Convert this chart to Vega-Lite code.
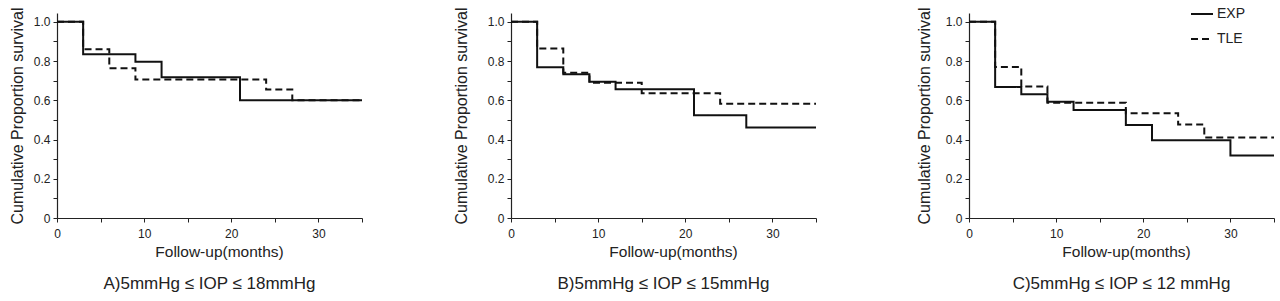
{
  "$schema": "https://vega.github.io/schema/vega-lite/v6.json",
  "background": "white",
  "padding": {"left": 9, "top": 2, "right": 0, "bottom": 0},
  "config": {
    "font": "Liberation Sans",
    "view": {"stroke": null},
    "axis": {
      "domainColor": "#222", "tickColor": "#222", "labelColor": "#222", "titleColor": "#222",
      "labelFontSize": 12, "titleFontSize": 15.5, "titleFontWeight": "normal",
      "grid": false, "tickSize": 4, "domainWidth": 1.2, "tickWidth": 1, "labelFlush": false, "labelOverlap": false
    },
    "axisY": {"titleFontSize": 16},
    "title": {"fontSize": 17, "fontWeight": "normal", "color": "#222"}
  },
  "data": {"values": [
    {"panel": "A", "group": "EXP", "month": 0, "survival": 1.0},
    {"panel": "A", "group": "EXP", "month": 3, "survival": 0.835},
    {"panel": "A", "group": "EXP", "month": 9, "survival": 0.797},
    {"panel": "A", "group": "EXP", "month": 12, "survival": 0.718},
    {"panel": "A", "group": "EXP", "month": 21, "survival": 0.60},
    {"panel": "A", "group": "EXP", "month": 35, "survival": 0.60},
    {"panel": "A", "group": "TLE", "month": 0, "survival": 1.0},
    {"panel": "A", "group": "TLE", "month": 3, "survival": 0.86},
    {"panel": "A", "group": "TLE", "month": 6, "survival": 0.763},
    {"panel": "A", "group": "TLE", "month": 9, "survival": 0.706},
    {"panel": "A", "group": "TLE", "month": 24, "survival": 0.655},
    {"panel": "A", "group": "TLE", "month": 27, "survival": 0.60},
    {"panel": "A", "group": "TLE", "month": 35, "survival": 0.60},
    {"panel": "B", "group": "EXP", "month": 0, "survival": 1.0},
    {"panel": "B", "group": "EXP", "month": 3, "survival": 0.769},
    {"panel": "B", "group": "EXP", "month": 6, "survival": 0.733},
    {"panel": "B", "group": "EXP", "month": 9, "survival": 0.694},
    {"panel": "B", "group": "EXP", "month": 12, "survival": 0.656},
    {"panel": "B", "group": "EXP", "month": 21, "survival": 0.524},
    {"panel": "B", "group": "EXP", "month": 27, "survival": 0.461},
    {"panel": "B", "group": "EXP", "month": 35, "survival": 0.461},
    {"panel": "B", "group": "TLE", "month": 0, "survival": 1.0},
    {"panel": "B", "group": "TLE", "month": 3, "survival": 0.864},
    {"panel": "B", "group": "TLE", "month": 6, "survival": 0.741},
    {"panel": "B", "group": "TLE", "month": 9, "survival": 0.689},
    {"panel": "B", "group": "TLE", "month": 15, "survival": 0.636},
    {"panel": "B", "group": "TLE", "month": 24, "survival": 0.583},
    {"panel": "B", "group": "TLE", "month": 35, "survival": 0.583},
    {"panel": "C", "group": "EXP", "month": 0, "survival": 1.0},
    {"panel": "C", "group": "EXP", "month": 3, "survival": 0.668},
    {"panel": "C", "group": "EXP", "month": 6, "survival": 0.631},
    {"panel": "C", "group": "EXP", "month": 9, "survival": 0.592},
    {"panel": "C", "group": "EXP", "month": 12, "survival": 0.551},
    {"panel": "C", "group": "EXP", "month": 18, "survival": 0.474},
    {"panel": "C", "group": "EXP", "month": 21, "survival": 0.396},
    {"panel": "C", "group": "EXP", "month": 30, "survival": 0.318},
    {"panel": "C", "group": "EXP", "month": 35, "survival": 0.318},
    {"panel": "C", "group": "TLE", "month": 0, "survival": 1.0},
    {"panel": "C", "group": "TLE", "month": 3, "survival": 0.77},
    {"panel": "C", "group": "TLE", "month": 6, "survival": 0.67},
    {"panel": "C", "group": "TLE", "month": 9, "survival": 0.588},
    {"panel": "C", "group": "TLE", "month": 18, "survival": 0.534},
    {"panel": "C", "group": "TLE", "month": 24, "survival": 0.476},
    {"panel": "C", "group": "TLE", "month": 27, "survival": 0.41},
    {"panel": "C", "group": "TLE", "month": 35, "survival": 0.41}
  ]},
  "spacing": 96,
  "resolve": {"legend": {"strokeDash": "independent"}},
  "hconcat": [
    {
      "spacing": 87,
      "resolve": {"legend": {"strokeDash": "independent"}},
      "hconcat": [
        {
          "width": 305, "height": 205,
          "title": {"text": "A)5mmHg ≤ IOP ≤ 18mmHg", "orient": "bottom", "offset": 16, "anchor": "middle", "frame": "group"},
          "transform": [{"filter": "datum.panel == 'A'"}],
          "mark": {"type": "line", "interpolate": "step-after", "strokeWidth": 2, "color": "#111"},
          "encoding": {
            "x": {"field": "month", "type": "quantitative", "scale": {"domain": [0, 35], "nice": false},
              "axis": {"values": [0, 5, 10, 15, 20, 25, 30, 35], "labelExpr": "datum.value % 10 == 0 ? datum.label : ''", "title": "Follow-up(months)", "labelPadding": 6, "titlePadding": 5, "titleX": 162}},
            "y": {"field": "survival", "type": "quantitative", "scale": {"domain": [0, 1.045], "nice": false},
              "axis": {"values": [0, 0.1, 0.2, 0.3, 0.4, 0.5, 0.6, 0.7, 0.8, 0.9, 1.0], "labelExpr": "datum.value == 0 ? '0' : (round(datum.value * 10) % 2 == 0 ? format(datum.value, '.1f') : '')", "title": "Cumulative Proportion survival", "titlePadding": 8, "labelPadding": 3}},
            "strokeDash": {"field": "group", "type": "nominal", "scale": {"domain": ["EXP", "TLE"], "range": [[1, 0], [7, 4]]}, "legend": null}
          }
        },
        {
          "width": 305, "height": 205,
          "title": {"text": "B)5mmHg ≤ IOP ≤ 15mmHg", "orient": "bottom", "offset": 16, "anchor": "middle", "frame": "group"},
          "transform": [{"filter": "datum.panel == 'B'"}],
          "mark": {"type": "line", "interpolate": "step-after", "strokeWidth": 2, "color": "#111"},
          "encoding": {
            "x": {"field": "month", "type": "quantitative", "scale": {"domain": [0, 35], "nice": false},
              "axis": {"values": [0, 5, 10, 15, 20, 25, 30, 35], "labelExpr": "datum.value % 10 == 0 ? datum.label : ''", "title": "Follow-up(months)", "labelPadding": 6, "titlePadding": 5, "titleX": 162}},
            "y": {"field": "survival", "type": "quantitative", "scale": {"domain": [0, 1.045], "nice": false},
              "axis": {"values": [0, 0.1, 0.2, 0.3, 0.4, 0.5, 0.6, 0.7, 0.8, 0.9, 1.0], "labelExpr": "datum.value == 0 ? '0' : (round(datum.value * 10) % 2 == 0 ? format(datum.value, '.1f') : '')", "title": "Cumulative Proportion survival", "titlePadding": 18, "labelPadding": 3}},
            "strokeDash": {"field": "group", "type": "nominal", "scale": {"domain": ["EXP", "TLE"], "range": [[1, 0], [7, 4]]}, "legend": null}
          }
        }
      ]
    },
    {
      "width": 305, "height": 205,
      "title": {"text": "C)5mmHg ≤ IOP ≤ 12 mmHg", "orient": "bottom", "offset": 16, "anchor": "middle", "frame": "group"},
      "transform": [{"filter": "datum.panel == 'C'"}],
      "mark": {"type": "line", "interpolate": "step-after", "strokeWidth": 2, "color": "#111"},
      "encoding": {
        "x": {"field": "month", "type": "quantitative", "scale": {"domain": [0, 35], "nice": false},
          "axis": {"values": [0, 5, 10, 15, 20, 25, 30, 35], "labelExpr": "datum.value % 10 == 0 ? datum.label : ''", "title": "Follow-up(months)", "labelPadding": 6, "titlePadding": 5, "titleX": 157}},
        "y": {"field": "survival", "type": "quantitative", "scale": {"domain": [0, 1.045], "nice": false},
          "axis": {"values": [0, 0.1, 0.2, 0.3, 0.4, 0.5, 0.6, 0.7, 0.8, 0.9, 1.0], "labelExpr": "datum.value == 0 ? '0' : (round(datum.value * 10) % 2 == 0 ? format(datum.value, '.1f') : '')", "title": "Cumulative Proportion survival", "titlePadding": 13, "labelPadding": 3}},
        "strokeDash": {"field": "group", "type": "nominal", "scale": {"domain": ["EXP", "TLE"], "range": [[1, 0], [7, 4]]},
          "legend": {"title": null, "orient": "none", "legendX": 221, "legendY": -11, "symbolType": "stroke", "symbolSize": 484, "symbolStrokeWidth": 2, "symbolStrokeColor": "#111", "labelFontSize": 14, "labelColor": "#222", "labelOffset": 3, "rowPadding": 6}}
      }
    }
  ]
}
